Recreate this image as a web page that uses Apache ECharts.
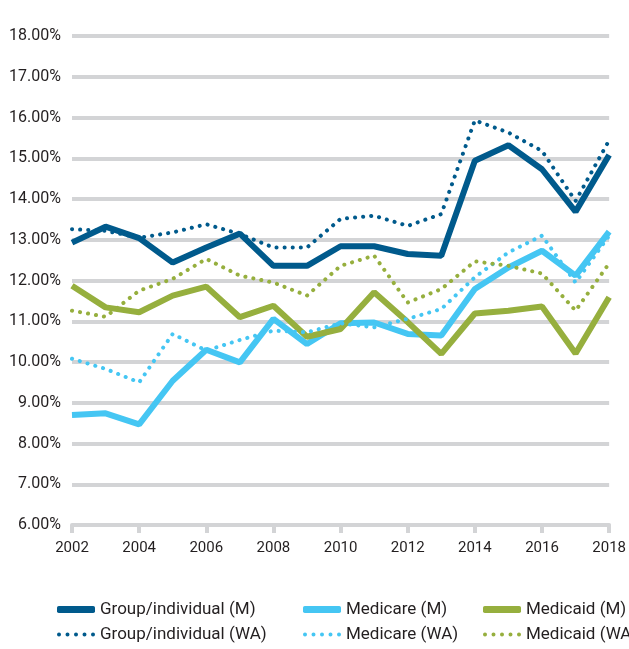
<!DOCTYPE html>
<html>
<head>
<meta charset="utf-8">
<script src="https://cdn.jsdelivr.net/npm/echarts@6/dist/echarts.min.js"></script>
<style>
  html, body { margin: 0; padding: 0; background: #fff; }
  #chart { width: 629px; height: 649px; }
</style>
</head>
<body>
<div id="chart"></div>
<script>
var years = ['2002', '2003', '2004', '2005', '2006', '2007', '2008', '2009', '2010',
             '2011', '2012', '2013', '2014', '2015', '2016', '2017', '2018'];

var groupM   = [12.93, 13.32, 13.04, 12.44, 12.81, 13.15, 12.36, 12.36, 12.84, 12.84, 12.65, 12.61, 14.94, 15.32, 14.73, 13.69, 15.08];
var groupWA  = [13.26, 13.22, 13.05, 13.18, 13.38, 13.14, 12.81, 12.81, 13.51, 13.59, 13.34, 13.63, 15.93, 15.63, 15.18, 13.95, 15.44];
var medicareM  = [8.70, 8.74, 8.47, 9.54, 10.30, 9.99, 11.06, 10.44, 10.95, 10.97, 10.69, 10.65, 11.79, 12.32, 12.73, 12.12, 13.20];
var medicareWA = [10.08, 9.83, 9.50, 10.69, 10.28, 10.54, 10.77, 10.73, 10.95, 10.85, 11.06, 11.30, 12.08, 12.69, 13.10, 11.95, 13.10];
var medicaidM  = [11.87, 11.34, 11.22, 11.63, 11.85, 11.10, 11.38, 10.62, 10.81, 11.71, 10.98, 10.20, 11.19, 11.26, 11.36, 10.21, 11.59];
var medicaidWA = [11.26, 11.11, 11.75, 12.04, 12.53, 12.12, 11.95, 11.63, 12.36, 12.61, 11.46, 11.79, 12.47, 12.36, 12.17, 11.26, 12.42];

var darkBlue = '#005a8c';
var lightBlue = '#45c6f3';
var green = '#96af3e';
var gridGrey = '#d3d4d6';
var textColor = '#231f20';

// five round dots, drawn in a 38x4 box
var dotIcon = 'path://M0,2a2,2 0 1,0 4,0a2,2 0 1,0 -4,0z' +
              'M8.5,2a2,2 0 1,0 4,0a2,2 0 1,0 -4,0z' +
              'M17,2a2,2 0 1,0 4,0a2,2 0 1,0 -4,0z' +
              'M25.5,2a2,2 0 1,0 4,0a2,2 0 1,0 -4,0z' +
              'M34,2a2,2 0 1,0 4,0a2,2 0 1,0 -4,0z';

function ChartLoad() {
    var dom = document.getElementById('chart');
    var chart = echarts.init(dom, null, { renderer: 'canvas' });

    function solid(name, data, color) {
        return {
            name: name,
            type: 'line',
            data: data,
            symbol: 'none',
            color: color,
            lineStyle: { width: 6, color: color },
            z: 2
        };
    }

    function dotted(name, data, color) {
        return {
            name: name,
            type: 'line',
            data: data,
            symbol: 'none',
            color: color,
            lineStyle: { width: 4, color: color, type: [0.1, 8], cap: 'round' },
            z: 3
        };
    }

    function legendItem(name, left, top, icon) {
        var isDot = icon === dotIcon;
        return {
            data: [name],
            left: left,
            top: top,
            orient: 'horizontal',
            icon: icon,
            itemWidth: 38,
            itemHeight: isDot ? 4 : 7,
            itemStyle: { borderWidth: 0 },
            selectedMode: false,
            padding: 0,
            textStyle: { fontFamily: 'Roboto', fontSize: 17, color: textColor }
        };
    }

    var option = {
        animation: false,
        textStyle: { fontFamily: 'Roboto' },
        grid: { left: 72, right: 14, top: 36, bottom: 124 },
        xAxis: {
            type: 'category',
            data: years,
            boundaryGap: false,
            axisLine: { lineStyle: { color: gridGrey, width: 4 } },
            axisTick: { show: true, interval: 1, length: 8, lineStyle: { color: gridGrey, width: 4 } },
            axisLabel: { interval: 1, margin: 16, fontSize: 15, color: textColor, fontFamily: 'Roboto' },
            splitLine: { show: false }
        },
        yAxis: {
            type: 'value',
            min: 6,
            max: 18,
            interval: 1,
            axisLine: { show: false },
            axisTick: { show: false },
            axisLabel: {
                margin: 11,
                fontSize: 16,
                color: textColor,
                fontFamily: 'Roboto',
                formatter: function (v) { return v.toFixed(2) + '%'; }
            },
            splitLine: { lineStyle: { color: gridGrey, width: 4 } }
        },
        legend: [
            legendItem('Group/individual (M)', 57, 601, 'roundRect'),
            legendItem('Medicare (M)', 303, 601, 'roundRect'),
            legendItem('Medicaid (M)', 483, 601, 'roundRect'),
            legendItem('Group/individual (WA)', 57, 626, dotIcon),
            legendItem('Medicare (WA)', 303, 626, dotIcon),
            legendItem('Medicaid (WA)', 483, 626, dotIcon)
        ],
        series: [
            solid('Group/individual (M)', groupM, darkBlue),
            solid('Medicare (M)', medicareM, lightBlue),
            solid('Medicaid (M)', medicaidM, green),
            dotted('Group/individual (WA)', groupWA, darkBlue),
            dotted('Medicare (WA)', medicareWA, lightBlue),
            dotted('Medicaid (WA)', medicaidWA, green)
        ]
    };

    chart.setOption(option, true);
}

ChartLoad();
</script>
</body>
</html>
